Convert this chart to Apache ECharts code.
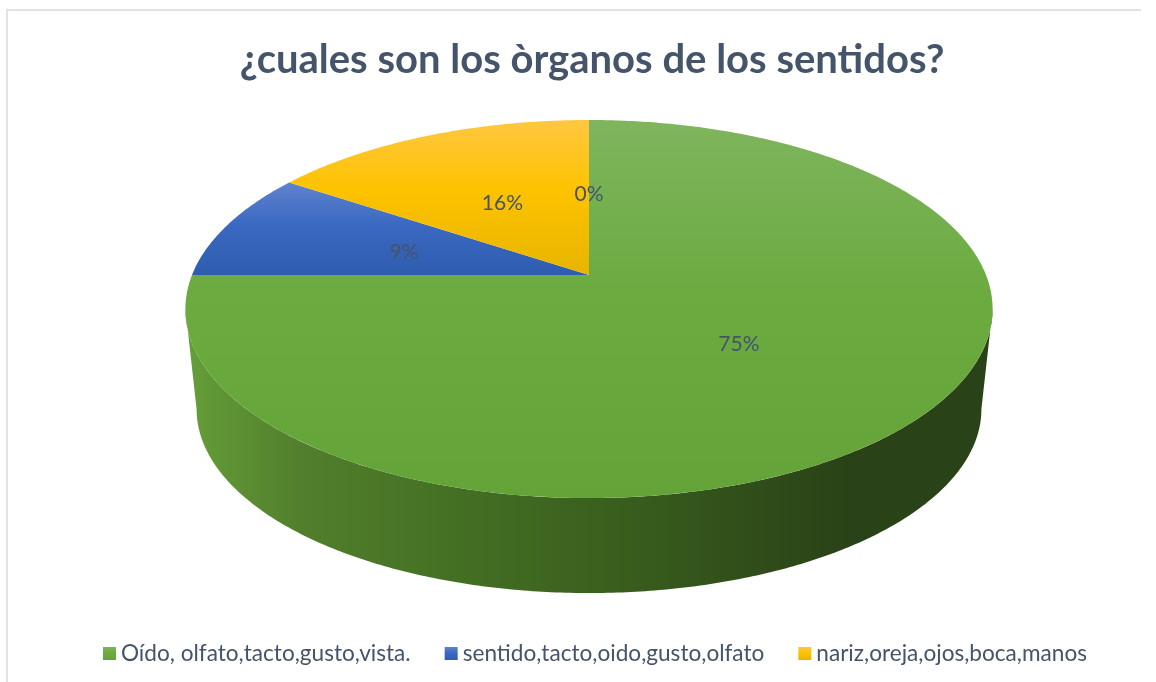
<!DOCTYPE html>
<html>
<head>
<meta charset="utf-8">
<style>
  html, body { margin: 0; padding: 0; background: #fff; }
  #main { width: 1156px; height: 682px; }
</style>
<script src="https://cdn.jsdelivr.net/npm/echarts@6/dist/echarts.min.js"></script>
</head>
<body>
<div id="main"></div>
<script>
const chartTitle = '¿cuales son los òrganos de los sentidos?';
const categories = ['Oído, olfato,tacto,gusto,vista.', 'sentido,tacto,oido,gusto,olfato', 'nariz,oreja,ojos,boca,manos', 'otro'];
const values = [75, 9.4, 15.6, 0];
const legendNames = categories.slice(0, 3);

const faceColors = [
  ['#7fb55e', '#6bab40', '#64a338'],
  ['#5f83cd', '#3b69c2', '#2e5cae'],
  ['#ffc741', '#fdc300', '#e8b400'],
  ['#fdc300', '#fdc300', '#fdc300']
];

// the tilted disc: circle points pushed through a small perspective
const topFace = { cx: 589, cy: 275, rx: 397, ry: 182.9 };
const bottomFace = { cx: 589, cy: 376, rx: 386, ry: 178 };
const tilt = 0.18;

function project(face, angle, r) {
  const u = Math.sin(angle) * r;
  const v = Math.cos(angle) * r;
  const d = 1 + tilt * v;
  return [face.cx + face.rx * u / d, face.cy - face.ry * v / d];
}

function arcPoints(face, from, to) {
  const n = Math.max(2, Math.ceil(Math.abs(to - from) / 0.01));
  const pts = [];
  for (let i = 0; i <= n; i++) {
    pts.push(project(face, from + (to - from) * i / n, 1));
  }
  return pts;
}

function vGradient(c) {
  return new echarts.graphic.LinearGradient(0, 0, 0, 1, [
    { offset: 0, color: c[0] },
    { offset: 0.45, color: c[1] },
    { offset: 1, color: c[2] }
  ]);
}

const wallGradient = new echarts.graphic.LinearGradient(0, 0, 1, 0, [
  { offset: 0, color: '#659f39' },
  { offset: 0.14, color: '#527f2c' },
  { offset: 0.33, color: '#447023' },
  { offset: 0.55, color: '#385d1d' },
  { offset: 0.82, color: '#2a4217' },
  { offset: 1, color: '#2a4217' }
]);

const total = values.reduce((a, b) => a + b, 0);

function renderSlice(params, api) {
  const idx = params.seriesIndex;
  const before = values.slice(0, idx).reduce((a, b) => a + b, 0);
  const start = before / total * Math.PI * 2;
  const end = start + api.value(0) / total * Math.PI * 2;
  const children = [];

  // side wall, only the part of the slice facing the viewer
  const edge = Math.asin(tilt);
  const wallFrom = Math.max(start, Math.PI / 2 + edge);
  const wallTo = Math.min(end, Math.PI * 1.5 - edge);
  if (wallTo > wallFrom) {
    const wall = arcPoints(topFace, wallFrom, wallTo).concat(arcPoints(bottomFace, wallTo, wallFrom));
    children.push({
      type: 'polygon',
      shape: { points: wall },
      style: { fill: wallGradient }
    });
  }

  if (end > start) {
    children.push({
      type: 'polygon',
      shape: { points: [project(topFace, 0, 0)].concat(arcPoints(topFace, start, end)) },
      style: { fill: vGradient(faceColors[idx]) }
    });
  }

  const mid = (start + end) / 2;
  const labelAt = project(topFace, mid, 0.5);
  children.push({
    type: 'text',
    z2: 10,
    x: labelAt[0],
    y: labelAt[1] + (Math.cos(mid) > 0 ? 3 : 0),
    style: {
      text: Math.round(api.value(0)) + '%',
      fill: '#44546a',
      font: '21px Lato',
      align: 'center',
      verticalAlign: 'middle'
    }
  });
  return { type: 'group', children: children };
}

const chart = echarts.init(document.getElementById('main'));
chart.setOption({
  animation: false,
  title: {
    text: chartTitle,
    left: 587,
    top: 35,
    textAlign: 'center',
    textStyle: { color: '#44546a', fontFamily: 'Lato', fontWeight: 'bold', fontSize: 40 }
  },
  legend: {
    data: legendNames.map((name, i) => ({ name: name, itemStyle: { color: vGradient(faceColors[i]) } })),
    left: 98,
    top: 637,
    icon: 'rect',
    itemWidth: 13,
    itemHeight: 13,
    itemGap: 34,
    selectedMode: false,
    textStyle: { color: '#44546a', fontFamily: 'Lato', fontSize: 22.6 }
  },
  graphic: [
    { type: 'line', shape: { x1: 6, y1: 10, x2: 1141, y2: 10 }, style: { stroke: '#dfe3eb', lineWidth: 2 } },
    { type: 'line', shape: { x1: 7, y1: 10, x2: 7, y2: 682 }, style: { stroke: '#dfe3eb', lineWidth: 2 } }
  ],
  series: categories.map((name, i) => ({
    name: name,
    type: 'custom',
    coordinateSystem: 'none',
    renderItem: renderSlice,
    data: [[values[i]]]
  }))
});
</script>
</body>
</html>
